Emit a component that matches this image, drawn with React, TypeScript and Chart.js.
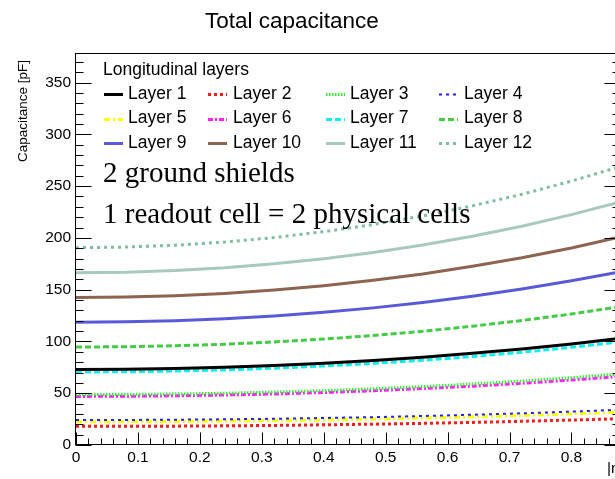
import React, { useEffect, useRef } from 'react';
import { Chart, registerables } from 'chart.js';

Chart.register(...registerables);

// |eta| sample positions
const etaValues = [0, 0.08, 0.16, 0.24, 0.32, 0.4, 0.48, 0.56, 0.64, 0.72, 0.8, 0.88];

// Capacitance [pF] per longitudinal layer
const layer1 = [73.0, 73.2, 73.9, 75.1, 76.8, 78.9, 81.6, 84.7, 88.5, 92.8, 97.6, 103.1];
const layer2 = [18.0, 18.1, 18.2, 18.5, 18.9, 19.5, 20.1, 20.9, 21.8, 22.9, 24.1, 25.4];
const layer3 = [48.6, 48.8, 49.2, 50.0, 51.1, 52.5, 54.3, 56.4, 58.9, 61.8, 65.0, 68.7];
const layer4 = [24.1, 24.2, 24.4, 24.8, 25.3, 26.1, 26.9, 28.0, 29.2, 30.6, 32.2, 34.1];
const layer5 = [22.5, 22.6, 22.8, 23.2, 23.7, 24.3, 25.1, 26.1, 27.3, 28.6, 30.1, 31.8];
const layer6 = [46.9, 47.1, 47.5, 48.3, 49.3, 50.7, 52.4, 54.5, 56.8, 59.6, 62.7, 66.3];
const layer7 = [70.5, 70.7, 71.4, 72.5, 74.1, 76.2, 78.8, 81.8, 85.4, 89.6, 94.3, 99.6];
const layer8 = [94.6, 94.9, 95.8, 97.3, 99.5, 102.3, 105.7, 109.8, 114.7, 120.2, 126.5, 133.7];
const layer9 = [118.5, 118.9, 120.0, 121.9, 124.6, 128.1, 132.4, 137.6, 143.6, 150.6, 158.5, 167.4];
const layer10 = [142.3, 142.8, 144.1, 146.4, 149.6, 153.8, 159.0, 165.2, 172.5, 180.8, 190.3, 201.0];
const layer11 = [166.3, 166.8, 168.4, 171.1, 174.9, 179.8, 185.8, 193.1, 201.5, 211.3, 222.4, 235.0];
const layer12 = [190.5, 191.1, 192.9, 196.0, 200.3, 206.0, 212.9, 221.2, 230.9, 242.1, 254.8, 269.1];

const layerSeries = [layer1, layer2, layer3, layer4, layer5, layer6, layer7, layer8, layer9, layer10, layer11, layer12];
const layerNames = ['Layer 1', 'Layer 2', 'Layer 3', 'Layer 4', 'Layer 5', 'Layer 6', 'Layer 7', 'Layer 8', 'Layer 9', 'Layer 10', 'Layer 11', 'Layer 12'];

const layerColors = ['#000000', '#ff1a1a', '#33ee33', '#2222ee', '#ffff00', '#ff22ff', '#11eeee', '#44cc44', '#5a5ad8', '#8c6450', '#a8c9bd', '#7fbf9f'];
const layerDashes = [[], [3, 3], [1.5, 1.5], [3, 4], [6, 3, 2, 3], [5, 2, 2, 2], [6, 3], [6, 3], [], [], [], [3, 4]];
const layerWidths = [3, 3, 3, 2, 3, 3, 3, 3, 3, 3, 3, 3];

const titleText = 'Total capacitance';
const yTitleText = 'Capacitance [pF]';
const xTitleText = '|\u03b7|';
const legendHeader = 'Longitudinal layers';
const noteLines = ['2 ground shields', '1 readout cell = 2 physical cells'];

const X_MAX = 0.88;
const Y_MAX = 378.5;

const SANS = "'Liberation Sans', Arial, Helvetica, sans-serif";
const SERIF = "'Liberation Serif', 'Times New Roman', serif";

const rootDecor = {
  id: 'rootDecor',
  afterDraw(chart: any) {
    const ctx = chart.ctx as CanvasRenderingContext2D;
    const area = chart.chartArea;
    const xs = chart.scales.x;
    const ys = chart.scales.y;
    const L = Math.round(area.left) - 0.5;
    const R = Math.round(area.right) - 0.5;
    const T = Math.round(area.top) + 0.5;
    const B = Math.round(area.bottom) - 0.5;

    ctx.save();
    // frame
    ctx.strokeStyle = '#000';
    ctx.lineWidth = 1;
    ctx.setLineDash([]);
    ctx.strokeRect(L, T, R - L, B - T);

    // y ticks (left & right)
    ctx.beginPath();
    for (let v = 0; v <= Y_MAX; v += 10) {
      const p = Math.round(ys.getPixelForValue(v)) + 0.5;
      const len = v % 50 === 0 ? 16 : 8;
      ctx.moveTo(L, p);
      ctx.lineTo(L + len, p);
      ctx.moveTo(R, p);
      ctx.lineTo(R - len, p);
    }
    // x ticks (bottom)
    for (let i = 0; i * 0.02 <= X_MAX + 1e-9; i++) {
      const v = i * 0.02;
      const p = Math.round(xs.getPixelForValue(v)) + 0.5;
      const len = i % 5 === 0 ? 12 : 6;
      ctx.moveTo(p, B);
      ctx.lineTo(p, B - len);
    }
    ctx.stroke();

    // title
    ctx.fillStyle = '#000';
    ctx.font = `22.5px ${SANS}`;
    ctx.textAlign = 'left';
    ctx.textBaseline = 'alphabetic';
    ctx.fillText(titleText, 205, 28);

    // y title
    ctx.save();
    ctx.translate(27, 60);
    ctx.rotate(-Math.PI / 2);
    ctx.font = `13.5px ${SANS}`;
    ctx.textAlign = 'right';
    ctx.textBaseline = 'alphabetic';
    ctx.fillText(yTitleText, 0, 0);
    ctx.restore();

    // x title
    ctx.font = `15.5px ${SANS}`;
    ctx.textAlign = 'left';
    ctx.fillText(xTitleText, 607, 473);

    // legend
    ctx.font = `17.5px ${SANS}`;
    ctx.textBaseline = 'middle';
    ctx.fillText(legendHeader, 103, 70);
    const colLine = [104, 208, 326, 439];
    const colText = [128, 233, 350, 464];
    const rowY = [94, 118.5, 143];
    layerNames.forEach((name, i) => {
      const r = Math.floor(i / 4);
      const c = i % 4;
      const y = Math.round(rowY[r]) + 0.5;
      ctx.strokeStyle = layerColors[i];
      ctx.lineWidth = layerWidths[i];
      ctx.setLineDash(layerDashes[i]);
      ctx.beginPath();
      ctx.moveTo(colLine[c], y);
      ctx.lineTo(colLine[c] + 19, y);
      ctx.stroke();
      ctx.setLineDash([]);
      ctx.fillStyle = '#000';
      ctx.fillText(name, colText[c], rowY[r]);
    });

    // annotations
    ctx.font = `29px ${SERIF}`;
    ctx.textBaseline = 'alphabetic';
    ctx.fillText(noteLines[0], 103, 182);
    ctx.fillText(noteLines[1], 103, 223);
    ctx.restore();
  },
};

export default function App() {
  const canvasRef = useRef<HTMLCanvasElement | null>(null);

  useEffect(() => {
    if (!canvasRef.current) return;
    const datasets = layerSeries.map((series, i) => ({
      label: layerNames[i],
      data: series.map((v, k) => ({ x: etaValues[k], y: v })),
      borderColor: layerColors[i],
      backgroundColor: layerColors[i],
      borderWidth: layerWidths[i],
      borderDash: layerDashes[i],
      pointRadius: 0,
      fill: false,
      tension: 0,
    }));
    const chart = new Chart(canvasRef.current, {
      type: 'line',
      data: { datasets },
      options: {
        animation: false,
        responsive: false,
        devicePixelRatio: 1,
        layout: { padding: { top: 53, right: 19, left: 0, bottom: 0 } },
        plugins: {
          legend: { display: false },
          title: { display: false },
          tooltip: { enabled: false },
        },
        scales: {
          x: {
            type: 'linear',
            min: 0,
            max: X_MAX,
            border: { display: false },
            grid: { display: false, drawTicks: false },
            ticks: {
              stepSize: 0.1,
              includeBounds: false,
              autoSkip: false,
              maxRotation: 0,
              padding: 3,
              color: '#000',
              font: { family: SANS, size: 15.5 },
              callback: (v: any) => (Number(v) === 0 ? '0' : Number(v).toFixed(1)),
            },
            afterFit: (s: any) => {
              s.height = 34;
            },
          },
          y: {
            type: 'linear',
            min: 0,
            max: Y_MAX,
            border: { display: false },
            grid: { display: false, drawTicks: false },
            ticks: {
              stepSize: 50,
              includeBounds: false,
              autoSkip: false,
              padding: 5,
              color: '#000',
              font: { family: SANS, size: 15.5 },
              callback: (v: any) => String(Math.round(Number(v))),
            },
            afterFit: (s: any) => {
              s.width = 76;
            },
          },
        },
      },
      plugins: [rootDecor],
    });
    return () => chart.destroy();
  }, []);

  return (
    <div
      style={{
        position: 'fixed',
        left: 0,
        top: 0,
        width: 615,
        height: 479,
        overflow: 'hidden',
        background: '#fff',
      }}
    >
      <canvas ref={canvasRef} width={640} height={479} style={{ display: 'block' }} />
    </div>
  );
}
